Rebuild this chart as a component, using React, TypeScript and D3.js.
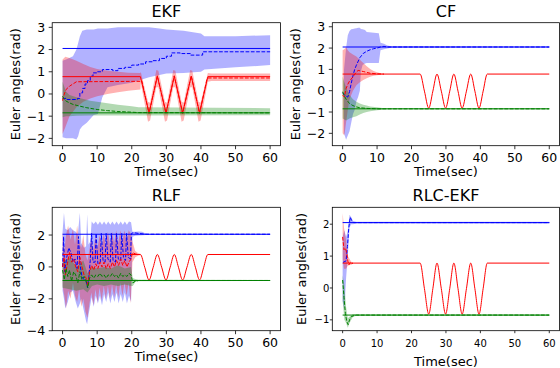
import * as d3 from "d3";

type Pt = [number, number];
type Band = [number, number, number]; // t, lower, upper

const FONT = "DejaVu Sans, sans-serif";
const timeTicks = [0, 10, 20, 30, 40, 50, 60];

// true signals
const blueTrue: Pt[] = [[0, 2.05], [60, 2.05]];
const greenTrue: Pt[] = [[0, -0.85], [60, -0.85]];
const redTrueSmooth: Pt[] = [
  [0, 0.78], [22.5, 0.78], [23.75, -0.02], [25.0, -0.82], [26.2, -0.02], [27.4, 0.78],
  [28.65, -0.02], [29.9, -0.82], [31.1, -0.02], [32.3, 0.78], [33.5, -0.02], [34.7, -0.82],
  [35.95, -0.02], [37.2, 0.78], [38.4, -0.02], [39.6, -0.82], [40.8, -0.02], [42.0, 0.78], [60, 0.78],
];
const redTrueZigzag: Pt[] = [
  [0, 0.78], [22.5, 0.78], [25, -0.85], [27.4, 0.8], [29.9, -0.85], [32.3, 0.8],
  [34.7, -0.85], [37.2, 0.8], [39.6, -0.85], [42, 0.78], [60, 0.78],
];

// EKF
const ekfBlueEst: Pt[] = [
  [0, -0.2], [1, -0.25], [4.3, -0.2], [5, 0.05], [5.8, 0.25], [6.5, 0.45], [7.2, 0.6], [8, 0.8],
  [8.8, 0.95], [10, 1.0], [11.5, 1.1], [14.5, 1.05], [16, 1.15], [18, 1.2], [20, 1.3], [22, 1.35],
  [24, 1.45], [26, 1.5], [28, 1.6], [30, 1.7], [31.5, 1.85], [34, 1.82], [37, 1.75], [40.5, 1.9], [60, 1.9],
];
const ekfBlueBand: Band[] = [
  [0, -1.95, 1.5], [1, -2.0, 1.55], [3, -2.0, 1.7], [4, -2.05, 2.0], [4.5, -1.9, 2.3], [5, -1.6, 2.6],
  [5.7, -1.45, 2.85], [7, -1.3, 2.9], [9, -0.95, 2.9], [10.2, -0.9, 2.95], [11.5, -0.15, 2.95],
  [13, 0.3, 2.95], [16, 0.4, 3.0], [20, 0.5, 3.0], [25, 0.75, 3.0], [28, 0.85, 2.95], [30, 0.92, 2.9],
  [35, 0.95, 2.85], [40, 1.0, 2.72], [41, 1.1, 2.6], [50, 1.2, 2.6], [60, 1.3, 2.65],
];
const ekfRedEstA: Pt[] = [
  [0, -0.3], [0.5, 0.0], [1, 0.2], [2, 0.35], [3, 0.45], [4, 0.55], [22.5, 0.57], [22.9, 0.6],
  [25, -0.88], [27.4, 0.82], [29.9, -0.88], [32.3, 0.82], [34.7, -0.88], [37.2, 0.82], [39.6, -0.88], [41.8, 0.72],
];
const ekfRedEstB: Pt[] = [[42, 0.72], [60, 0.72]];
const ekfRedBand: Band[] = [
  [0, -1.8, 1.55], [0.8, -1.5, 1.68], [2, -1.0, 1.62], [4, -0.6, 1.5], [6, -0.35, 1.35],
  [8, -0.2, 1.22], [10, -0.1, 1.12], [13, 0.0, 1.05], [16, 0.08, 1.0], [19, 0.15, 0.96],
  [22.5, 0.2, 0.95], [22.6, 0.5, 1.0], [24.7, -1.25, -0.35], [25.3, -1.2, -0.4], [27.1, 0.3, 1.08],
  [27.7, 0.3, 1.05], [29.6, -1.25, -0.35], [30.2, -1.2, -0.4], [32.0, 0.3, 1.08], [32.6, 0.3, 1.05],
  [34.4, -1.25, -0.35], [35.0, -1.2, -0.4], [36.9, 0.3, 1.08], [37.5, 0.3, 1.05], [39.3, -1.25, -0.35],
  [39.9, -1.2, -0.4], [42, 0.55, 0.95], [43, 0.58, 0.92], [60, 0.58, 0.92],
];
const ekfGreenEst: Pt[] = [
  [0, -0.1], [0.5, -0.25], [1, -0.32], [2, -0.4], [3, -0.47], [5, -0.55], [7, -0.62], [10, -0.7],
  [13, -0.75], [16, -0.79], [20, -0.82], [22, -0.84], [60, -0.85],
];
const ekfGreenBand: Band[] = [
  [0, -1.05, 0.55], [1, -1.0, 0.1], [2, -1.0, -0.05], [4, -0.98, -0.15], [8, -0.97, -0.3],
  [12, -0.97, -0.4], [16, -0.97, -0.48], [20, -0.97, -0.55], [22, -0.97, -0.6], [60, -0.96, -0.64],
];

// CF
const cfBlueEst: Pt[] = [
  [0, -0.1], [0.8, -0.25], [1.5, -0.3], [2, -0.05], [2.5, 0.35], [3, 0.7], [3.5, 1.0], [4, 1.2],
  [5, 1.55], [6, 1.75], [7, 1.85], [8, 1.92], [9, 1.97], [10, 2.0], [11, 2.05], [12, 2.08], [13, 2.05], [60, 2.05],
];
const cfBlueBand: Band[] = [
  [0.4, -2.0, 1.0], [1, -2.3, 2.0], [1.5, -2.1, 2.6], [2, -1.9, 2.8], [2.5, -1.5, 2.88], [3, -1.1, 2.9],
  [3.5, -0.9, 2.92], [4, -0.5, 2.93], [4.5, -0.3, 2.95], [5, 0.0, 2.95], [5.3, 0.9, 2.9], [5.8, 1.2, 2.88],
  [6.5, 1.28, 2.85], [7, 1.3, 2.75], [10.5, 1.3, 2.7], [11, 1.9, 2.25], [12, 1.95, 2.2], [13, 1.98, 2.12],
  [14, 2.02, 2.08], [60, 2.03, 2.07],
];
const cfRedEst: Pt[] = [
  [0, -0.2], [0.5, -0.3], [1, 0.1], [1.5, 0.3], [2, 0.45], [3, 0.65], [4, 0.88], [4.5, 0.95],
  [6, 0.9], [8, 0.82], [10, 0.79], [12, 0.78],
];
const cfRedBand: Band[] = [
  [0, -2.0, 1.9], [0.5, -2.1, 1.95], [1, -1.5, 2.05], [1.5, -0.9, 1.9], [2, -0.4, 1.8], [3, 0.0, 1.7],
  [4, 0.25, 1.6], [5, 0.4, 1.45], [6, 0.5, 1.3], [7, 0.58, 1.15], [8, 0.65, 1.02], [9, 0.7, 0.93],
  [10, 0.73, 0.86], [11, 0.75, 0.82], [12, 0.76, 0.8],
];
const cfGreenEst: Pt[] = [
  [0, -0.05], [0.5, -0.25], [1, -0.4], [1.5, -0.5], [2, -0.6], [3, -0.7], [4, -0.76], [5, -0.8],
  [7, -0.83], [10, -0.85], [60, -0.85],
];
const cfGreenBand: Band[] = [
  [0, -1.3, 0.65], [0.5, -1.35, 0.4], [1, -1.4, 0.15], [2, -1.3, -0.2], [3, -1.25, -0.4],
  [4, -1.2, -0.52], [5, -1.12, -0.6], [6, -1.05, -0.66], [7, -1.0, -0.7], [8, -0.96, -0.74],
  [10, -0.92, -0.78], [12, -0.88, -0.82], [14, -0.87, -0.83], [60, -0.87, -0.83],
];

// RLF
const rlfBlueEst: Pt[] = [
  [0, 0.0], [0.3, 1.9], [0.6, -0.3], [1.2, 0.6], [1.8, 1.2], [2.4, 0.9], [3.0, 0.3], [3.6, 0.5],
  [4.2, -0.1], [4.6, 1.9], [5.0, 0.2], [5.6, -0.6], [6.2, -0.8], [6.8, -0.9], [7.2, -1.3], [7.6, -0.6],
  [8.0, 0.4], [8.4, 2.1], [8.8, 0.3], [9.4, 0.3], [9.7, 2.1], [10.2, 0.2], [10.9, 0.3], [11.2, 2.1],
  [11.7, 0.4], [12.3, 0.3], [12.6, 2.1], [13.1, 0.5], [13.8, 0.3], [14.1, 2.1], [14.6, 0.4], [15.3, 0.3],
  [15.6, 2.1], [16.1, 0.5], [16.8, 0.4], [17.1, 2.1], [17.6, 0.6], [18.2, 0.4], [18.5, 2.1], [19.0, 0.6],
  [19.6, 0.5], [19.9, 2.1], [20.5, 2.15], [22, 2.1], [24, 2.05], [60, 2.05],
];
const rlfBlueBand: Band[] = [
  [0, -1.5, 2.2], [0.4, -2.0, 3.4], [0.8, -2.6, 2.4], [1.5, -2.2, 2.3], [2.2, -1.6, 2.5], [3.0, -1.5, 2.3],
  [3.8, -2.2, 2.2], [4.4, -2.6, 2.0], [5.0, -2.3, 3.4], [5.4, -2.0, 1.5], [6.2, -2.8, 1.2], [6.8, -3.4, 1.3],
  [7.1, -3.6, 3.3], [7.5, -3.0, 1.4], [8.0, -2.4, 1.6], [8.4, -1.9, 2.85], [9.0, -2.5, 2.7], [9.6, -1.8, 2.85],
  [10.2, -2.3, 2.65], [10.8, -1.8, 2.85], [11.4, -2.4, 2.65], [12.0, -1.7, 2.85], [12.6, -2.2, 2.65],
  [13.2, -1.6, 2.85], [13.8, -2.3, 2.65], [14.4, -1.7, 2.85], [15.0, -2.2, 2.65], [15.6, -1.6, 2.85],
  [16.2, -2.3, 2.65], [16.8, -1.7, 2.85], [17.4, -2.2, 2.65], [18.0, -1.6, 2.85], [18.6, -2.3, 2.65],
  [19.2, -1.8, 2.85], [19.8, -2.2, 2.8], [20.2, 1.9, 2.2], [21, 1.95, 2.2], [22, 1.97, 2.22],
  [23, 1.98, 2.2], [24, 2.0, 2.1], [25, 2.03, 2.07], [60, 2.03, 2.07],
];
const rlfRedEst: Pt[] = [
  [0, 0.0], [0.4, 0.6], [0.8, -0.5], [1.4, 0.2], [2.0, 0.9], [2.6, 0.3], [3.2, 0.5], [3.8, 0.0],
  [4.4, -0.3], [5.0, 0.6], [5.6, 0.0], [6.2, -0.5], [6.8, -0.7], [7.3, -1.2], [7.8, -0.3], [8.4, 0.1],
  [9.0, -0.2], [9.6, 0.2], [10.2, -0.1], [10.8, 0.3], [11.4, 0.0], [12.0, 0.3], [12.6, -0.1],
  [13.2, 0.2], [13.8, -0.1], [14.4, 0.3], [15.0, 0.0], [15.6, 0.4], [16.2, 0.1], [16.8, 0.5],
  [17.4, 0.1], [18.0, 0.4], [18.6, 0.0], [19.2, 0.3], [19.8, 0.5], [20.2, 0.9], [21, 0.82], [22, 0.78],
];
const rlfRedBand: Band[] = [
  [0, -1.2, 2.2], [0.5, -1.8, 1.0], [1.0, -2.6, 2.0], [1.6, -1.5, 2.6], [2.3, -2.0, 1.7], [3.0, -1.0, 2.4],
  [3.6, -1.8, 1.4], [4.2, -2.2, 2.6], [4.8, -1.4, 1.6], [5.4, -2.5, 1.2], [6.0, -2.0, 2.0], [6.6, -2.8, 0.8],
  [7.2, -3.2, 0.4], [7.7, -2.4, 1.0], [8.3, -1.6, 1.8], [8.9, -2.4, 1.1], [9.5, -1.4, 1.9], [10.1, -2.2, 1.2],
  [10.7, -1.3, 2.0], [11.3, -2.1, 1.3], [11.9, -1.2, 2.1], [12.5, -2.0, 1.4], [13.1, -1.2, 2.2],
  [13.7, -2.0, 1.4], [14.3, -1.1, 2.2], [14.9, -1.9, 1.5], [15.5, -1.1, 2.3], [16.1, -1.9, 1.5],
  [16.7, -1.0, 2.3], [17.3, -1.8, 1.6], [17.9, -1.0, 2.3], [18.5, -1.8, 1.6], [19.1, -1.0, 2.3],
  [19.7, -2.3, 2.1], [20.2, 0.3, 1.6], [21, 0.6, 1.0], [22, 0.72, 0.84], [22.5, 0.74, 0.82],
];
const rlfGreenEst: Pt[] = [
  [0, -0.2], [0.5, -0.8], [1.0, -0.1], [1.5, -0.6], [2.0, -0.2], [2.6, -0.9], [3.2, -0.3], [3.8, -0.5],
  [4.4, -1.0], [5.0, -0.3], [5.6, -0.8], [6.2, -0.6], [6.8, -0.9], [7.3, -1.3], [7.8, -0.7], [8.4, -0.5],
  [9.0, -0.7], [9.6, -0.5], [10.2, -0.6], [10.8, -0.4], [11.4, -0.6], [12, -0.5], [12.6, -0.7],
  [13.2, -0.5], [13.8, -0.6], [14.4, -0.4], [15.0, -0.6], [15.6, -0.5], [16.2, -0.7], [16.8, -0.4],
  [17.4, -0.6], [18, -0.5], [18.6, -0.6], [19.2, -0.4], [19.8, -0.5], [20.3, -1.0], [21, -0.9],
  [22, -0.85], [60, -0.85],
];
const rlfGreenBand: Band[] = [
  [0, -1.3, 0.3], [2, -1.4, 0.6], [4, -1.5, 0.0], [6, -1.4, 0.4], [7.2, -1.6, -0.4], [8.5, -1.2, 0.0],
  [10, -1.1, -0.1], [12, -1.2, 0.0], [14, -1.1, -0.1], [16, -1.2, 0.1], [18, -1.1, -0.1],
  [19.8, -1.2, 0.0], [20.3, -1.2, -0.7], [21, -0.95, -0.75], [22, -0.9, -0.8], [60, -0.88, -0.82],
];

// RLC-EKF
const rlcBlueEst: Pt[] = [
  [0.1, 0.8], [1.0, 0.85], [1.4, 1.3], [1.8, 1.9], [2.2, 2.22], [2.6, 2.12], [3.2, 2.05], [60, 2.05],
];
const rlcBlueBand: Band[] = [
  [0, -0.4, 1.6], [0.5, -0.7, 1.8], [1, 0.3, 1.6], [1.5, 1.0, 1.8], [2, 1.9, 2.3], [2.5, 2.0, 2.22],
  [3, 2.0, 2.1], [4, 2.02, 2.08], [60, 2.02, 2.08],
];
const rlcRedEst: Pt[] = [
  [0, 1.6], [0.4, 1.2], [0.8, 1.25], [1.2, 1.1], [1.5, 0.85], [1.8, 0.72], [2.2, 0.8], [2.6, 0.76], [3, 0.78],
];
const rlcRedBand: Band[] = [
  [0, 0.9, 2.35], [0.4, 0.6, 1.9], [1, 0.6, 1.5], [1.5, 0.7, 1.0], [2.5, 0.74, 0.82], [3, 0.76, 0.8],
];
const rlcGreenEst: Pt[] = [
  [0, 0.25], [0.4, -0.3], [0.8, -0.8], [1.2, -1.05], [1.6, -1.15], [2.0, -1.0], [2.5, -0.9],
  [3.5, -0.86], [4, -0.85], [60, -0.85],
];
const rlcGreenBand: Band[] = [
  [0, -0.4, 0.4], [0.5, -1.0, 0.1], [1, -1.1, -0.6], [1.5, -1.25, -0.95], [2, -1.1, -0.9],
  [3, -0.9, -0.82], [4, -0.87, -0.83], [60, -0.87, -0.83],
];

const BLUE = "#0000ff";
const RED = "#ff0000";
const GREEN = "#008000";

interface LineSpec {
  data: Pt[];
  color: string;
  dashed?: boolean;
  curve?: d3.CurveFactory;
}

interface PanelSpec {
  id: string;
  title: string;
  x0: number;
  x1: number;
  y0: number;
  y1: number;
  yDomain: [number, number];
  yTicks: number[];
  small?: boolean;
  bands: [Band[], string][];
  lines: LineSpec[];
}

const fmt = (v: number) => (v < 0 ? "\u2212" + Math.abs(v) : String(v));

function Panel({ p }: { p: PanelSpec }) {
  const x = d3.scaleLinear().domain([-3, 63]).range([p.x0, p.x1]);
  const y = d3.scaleLinear().domain(p.yDomain).range([p.y1, p.y0]);
  const area = d3
    .area<Band>()
    .x((d) => x(d[0]))
    .y0((d) => y(d[1]))
    .y1((d) => y(d[2]));
  const tickFont = p.small ? 10 : 12.5;
  const tickLen = p.small ? 2.5 : 3.5;
  const ylabPad = p.small ? 26 : 32.7;
  const xlabPad = p.small ? 35.5 : 30.5;
  const xTickTop = p.small ? 9 : 7;
  const yTickGap = p.small ? 3 : 7;
  const cx = (p.x0 + p.x1) / 2;
  const cy = (p.y0 + p.y1) / 2;

  return (
    <g>
      <defs>
        <clipPath id={`clip-${p.id}`}>
          <rect x={p.x0} y={p.y0} width={p.x1 - p.x0} height={p.y1 - p.y0} />
        </clipPath>
      </defs>
      <g clipPath={`url(#clip-${p.id})`}>
        {p.bands.map(([b, c], i) => (
          <path key={i} d={area(b) ?? ""} fill={c} fillOpacity={0.3} stroke="none" />
        ))}
        {p.lines.map((l, i) => {
          const line = d3
            .line<Pt>()
            .x((d) => x(d[0]))
            .y((d) => y(d[1]))
            .curve(l.curve ?? d3.curveLinear);
          return (
            <path
              key={i}
              d={line(l.data) ?? ""}
              fill="none"
              stroke={l.color}
              strokeWidth={1}
              strokeDasharray={l.dashed ? "3.7,1.6" : undefined}
            />
          );
        })}
      </g>
      <rect
        x={p.x0}
        y={p.y0}
        width={p.x1 - p.x0}
        height={p.y1 - p.y0}
        fill="none"
        stroke="#000"
        strokeWidth={0.8}
      />
      {timeTicks.map((t) => (
        <g key={`x${t}`}>
          <line x1={x(t)} x2={x(t)} y1={p.y1} y2={p.y1 + tickLen} stroke="#000" strokeWidth={0.8} />
          <text
            x={x(t)}
            y={p.y1 + xTickTop}
            dy="0.76em"
            textAnchor="middle"
            fontSize={tickFont}
            fontFamily={FONT}
          >
            {t}
          </text>
        </g>
      ))}
      {p.yTicks.map((v) => (
        <g key={`y${v}`}>
          <line x1={p.x0 - tickLen} x2={p.x0} y1={y(v)} y2={y(v)} stroke="#000" strokeWidth={0.8} />
          <text
            x={p.x0 - yTickGap}
            y={y(v)}
            dy="0.36em"
            textAnchor="end"
            fontSize={tickFont}
            fontFamily={FONT}
          >
            {fmt(v)}
          </text>
        </g>
      ))}
      <text x={cx} y={p.y0 - 6} textAnchor="middle" fontSize={16} fontFamily={FONT}>
        {p.title}
      </text>
      <text x={cx} y={p.y1 + xlabPad} textAnchor="middle" fontSize={13} fontFamily={FONT}>
        Time(sec)
      </text>
      <text
        transform={`translate(${p.x0 - ylabPad},${cy}) rotate(-90)`}
        textAnchor="middle"
        fontSize={13}
        fontFamily={FONT}
      >
        Euler angles(rad)
      </text>
    </g>
  );
}

const LX0 = 52.2, LX1 = 280.5, RX0 = 332.3, RX1 = 559.6;
const TY0 = 22.7, TY1 = 145.7, BY0 = 207.3, BY1 = 330.7;

const panels: PanelSpec[] = [
  {
    id: "ekf", title: "EKF", x0: LX0, x1: LX1, y0: TY0, y1: TY1,
    yDomain: [-2.33, 3.21], yTicks: [-2, -1, 0, 1, 2, 3],
    bands: [[ekfBlueBand, BLUE], [ekfRedBand, RED], [ekfGreenBand, GREEN]],
    lines: [
      { data: blueTrue, color: BLUE },
      { data: ekfBlueEst, color: BLUE, dashed: true, curve: d3.curveStepAfter },
      { data: redTrueZigzag, color: RED },
      { data: ekfRedEstA, color: RED, dashed: true },
      { data: ekfRedEstB, color: RED, dashed: true },
      { data: greenTrue, color: GREEN },
      { data: ekfGreenEst, color: GREEN, dashed: true },
    ],
  },
  {
    id: "cf", title: "CF", x0: RX0, x1: RX1, y0: TY0, y1: TY1,
    yDomain: [-2.58, 3.19], yTicks: [-2, -1, 0, 1, 2, 3],
    bands: [[cfBlueBand, BLUE], [cfRedBand, RED], [cfGreenBand, GREEN]],
    lines: [
      { data: blueTrue, color: BLUE },
      { data: cfBlueEst, color: BLUE, dashed: true },
      { data: redTrueSmooth, color: RED, curve: d3.curveMonotoneX },
      { data: cfRedEst, color: RED, dashed: true },
      { data: greenTrue, color: GREEN },
      { data: cfGreenEst, color: GREEN, dashed: true },
    ],
  },
  {
    id: "rlf", title: "RLF", x0: LX0, x1: LX1, y0: BY0, y1: BY1,
    yDomain: [-4.0, 3.74], yTicks: [-4, -2, 0, 2],
    bands: [[rlfBlueBand, BLUE], [rlfRedBand, RED], [rlfGreenBand, GREEN]],
    lines: [
      { data: blueTrue, color: BLUE },
      { data: rlfBlueEst, color: BLUE, dashed: true },
      { data: redTrueSmooth, color: RED, curve: d3.curveMonotoneX },
      { data: rlfRedEst, color: RED, dashed: true },
      { data: greenTrue, color: GREEN },
      { data: rlfGreenEst, color: GREEN, dashed: true },
    ],
  },
  {
    id: "rlc", title: "RLC-EKF", x0: RX0, x1: RX1, y0: BY0, y1: BY1,
    yDomain: [-1.34, 2.53], yTicks: [-1, 0, 1, 2], small: true,
    bands: [[rlcBlueBand, BLUE], [rlcRedBand, RED], [rlcGreenBand, GREEN]],
    lines: [
      { data: blueTrue, color: BLUE },
      { data: rlcBlueEst, color: BLUE, dashed: true },
      { data: redTrueSmooth, color: RED, curve: d3.curveMonotoneX },
      { data: rlcRedEst, color: RED, dashed: true },
      { data: greenTrue, color: GREEN },
      { data: rlcGreenEst, color: GREEN, dashed: true },
    ],
  },
];

export default function App() {
  return (
    <svg
      width={560}
      height={368}
      style={{ position: "absolute", left: 0, top: 0, background: "#fff" }}
    >
      {panels.map((p) => (
        <Panel key={p.id} p={p} />
      ))}
    </svg>
  );
}
